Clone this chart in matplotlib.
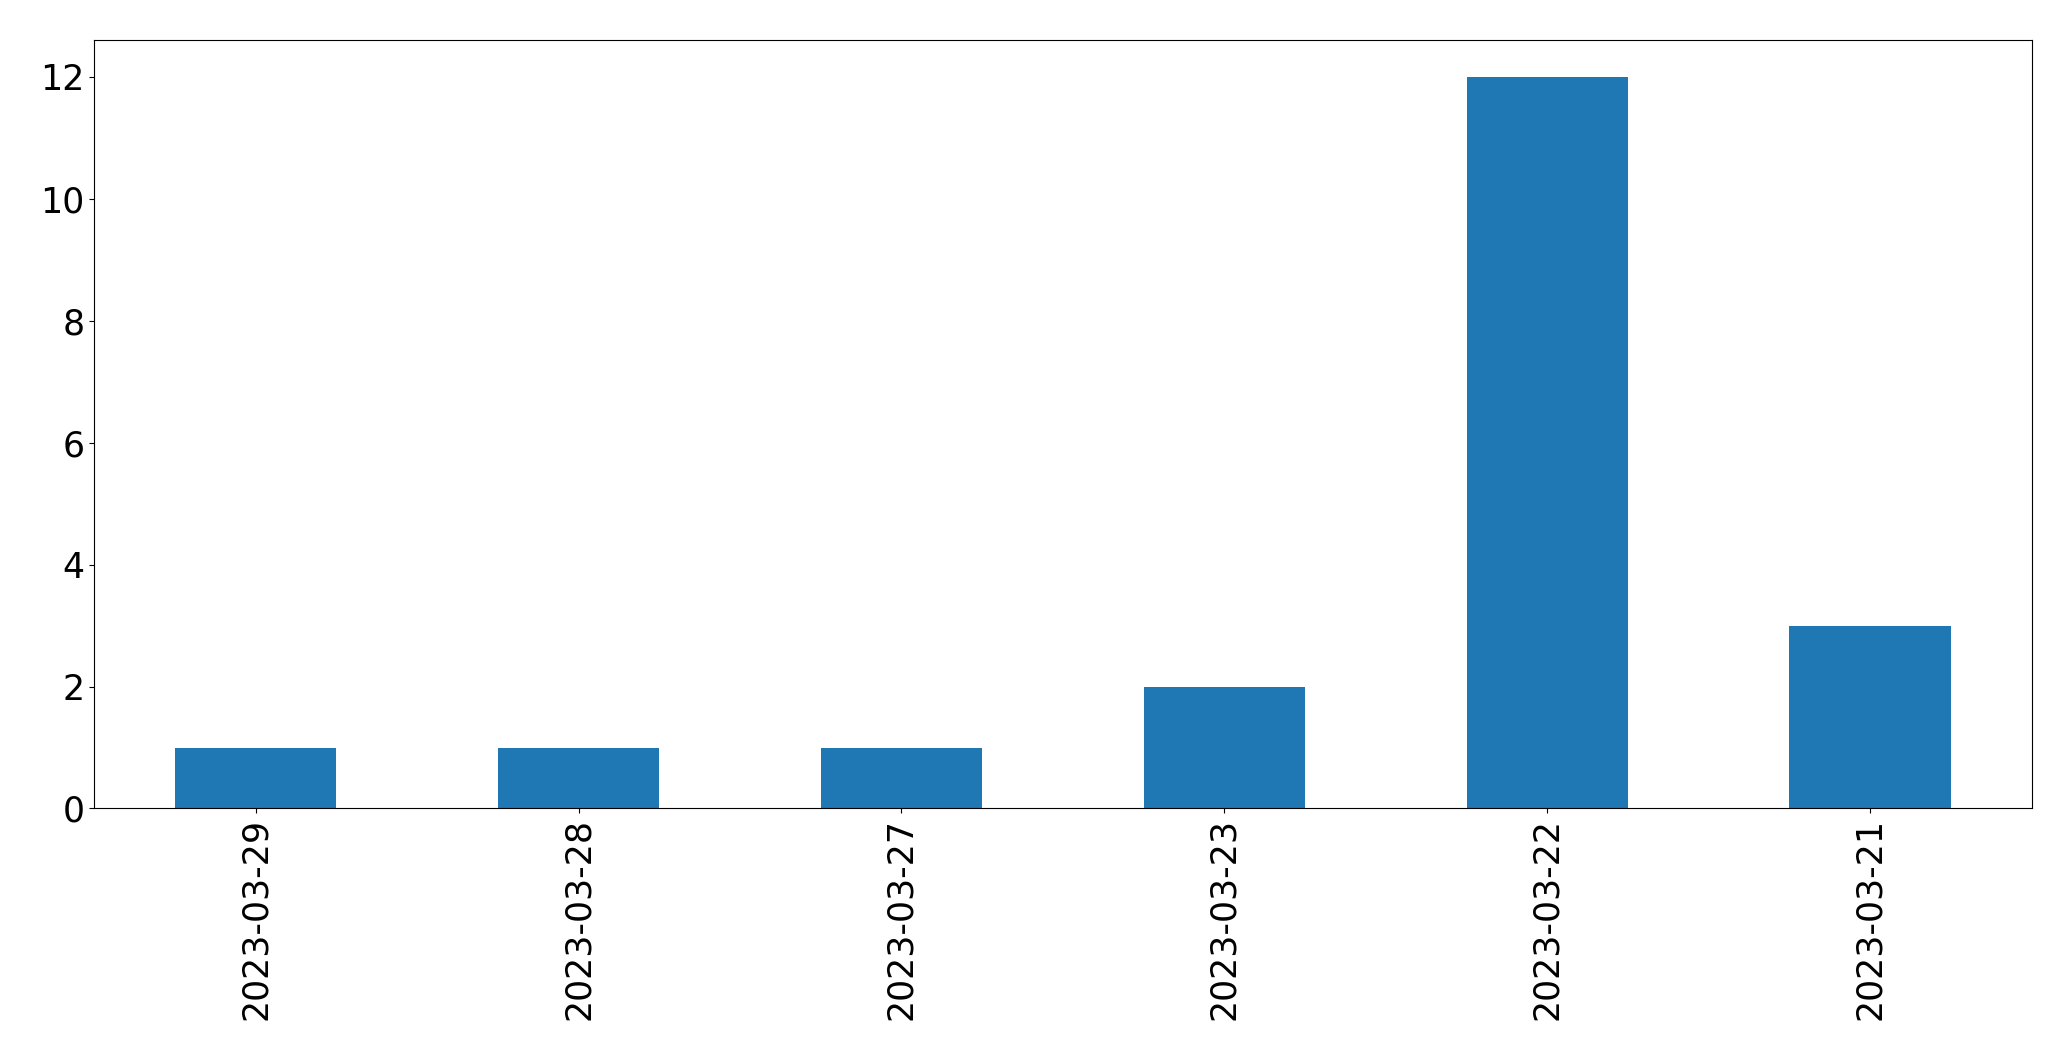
import matplotlib
matplotlib.use("Agg")
import matplotlib.pyplot as plt
import numpy as np

dates = ["2023-03-29", "2023-03-28", "2023-03-27", "2023-03-23", "2023-03-22", "2023-03-21"]
counts = [1, 1, 1, 2, 12, 3]

fig = plt.figure(figsize=(20.71, 10.61), dpi=100)
ax = fig.add_axes([0.0455, 0.238, 0.9355, 0.724])
x = np.arange(len(dates))
ax.bar(x, counts, width=0.5, color="#1f77b4")
ax.set_xlim(-0.5, len(dates) - 0.5)
ax.set_ylim(0, 12.6)
ax.set_xticks(x)
ax.set_xticklabels(dates, rotation=90)
ax.set_yticks([0, 2, 4, 6, 8, 10, 12])
ax.tick_params(labelsize=25)
fig.savefig("out.png", dpi=100)
